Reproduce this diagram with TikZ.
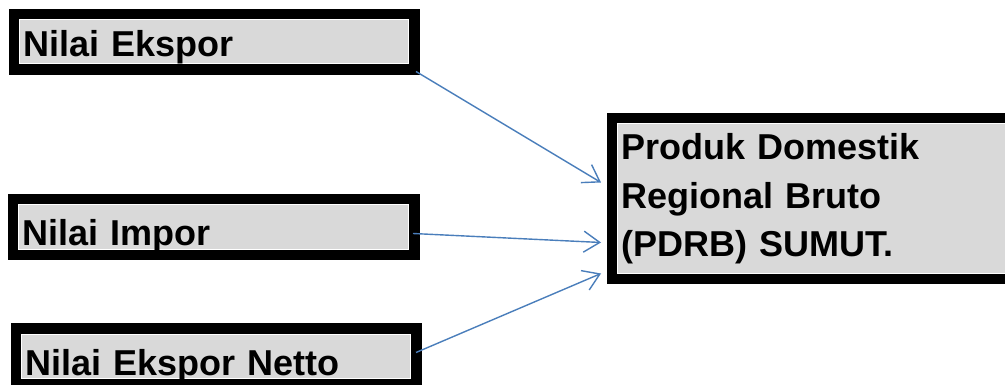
\documentclass[tikz,border=0pt]{standalone}
\usepackage{fontspec}
\setmainfont{Liberation Sans}
\usetikzlibrary{arrows.meta}
\definecolor{boxgrey}{HTML}{D9D9D9}
\definecolor{linkblue}{HTML}{4A7EBB}
\tikzset{
  framebox/.style={
    fill=boxgrey, draw=white, line width=1pt,
    preaction={draw=black, line width=22pt},
    inner xsep=4pt, inner ysep=0pt, anchor=base west, align=left,
    font=\fontsize{36}{48.5}\selectfont\bfseries
  },
  link/.style={
    draw=linkblue, line width=1.4pt,
    -{Straight Barb[length=16pt,width=21pt]}
  }
}
\begin{document}
\begin{tikzpicture}[x=1pt,y=-1pt]
\useasboundingbox (0,0) rectangle (1005,385);
\clip (0,0) rectangle (1005,385);

% source boxes
\node[framebox, text width=381pt, text height=37pt, text depth=7pt]
  (ekspor) at (19,57) {Nilai Ekspor};
\node[framebox, text width=382pt, text height=40pt, text depth=4pt]
  (impor) at (18,245) {Nilai Impor};
\node[framebox, text width=381pt, text height=41pt, text depth=3pt]
  (netto) at (21,375) {Nilai Ekspor Netto};

% target box
\node[framebox, text width=415pt, text height=36pt, text depth=113pt]
  (pdrb) at (617,160) {Produk Domestik\\Regional Bruto\\(PDRB) SUMUT.};

% connectors
\draw[link] ([shift={(7,7)}]ekspor.south east) -- ([shift={(-16,59)}]pdrb.north west);
\draw[link] ([shift={(4,-16)}]impor.south east) -- ([shift={(-16,119)}]pdrb.north west);
\draw[link] ([shift={(5,-26)}]netto.south east) -- ([xshift=-16pt]pdrb.south west);
\end{tikzpicture}
\end{document}
